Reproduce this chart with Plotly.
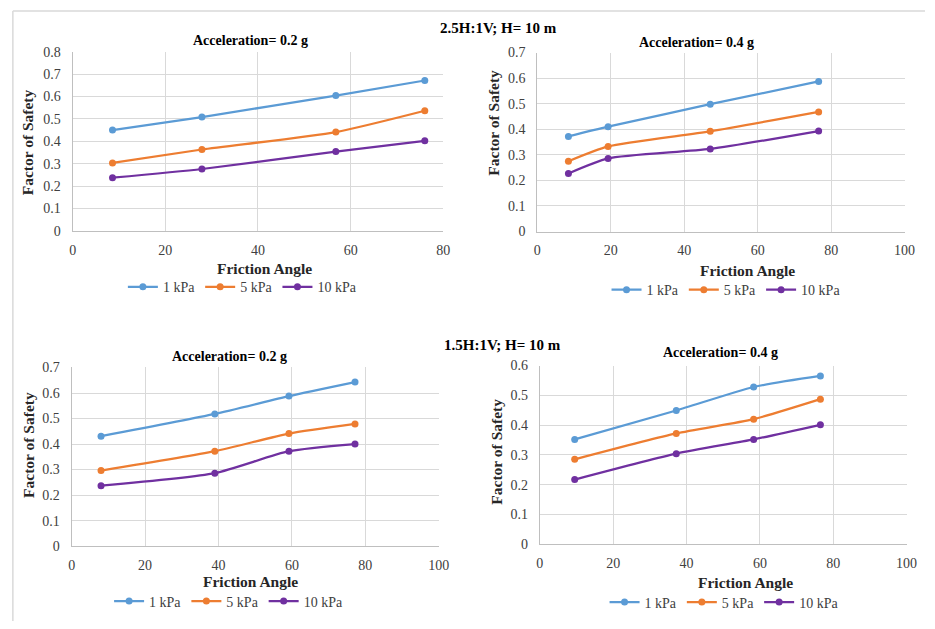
import plotly.graph_objects as go

W, H = 935, 629

series_names = ["1 kPa", "5 kPa", "10 kPa"]
colors = ["#5B9BD5", "#ED7D31", "#7030A0"]

# Panel 1: 2.5H:1V, 0.2 g
p1_x = [8.6, 27.9, 56.8, 76.0]
p1_1kpa = [0.450, 0.508, 0.604, 0.671]
p1_5kpa = [0.303, 0.363, 0.441, 0.536]
p1_10kpa = [0.237, 0.276, 0.354, 0.402]

# Panel 2: 2.5H:1V, 0.4 g
p2_x = [8.5, 19.3, 47.1, 76.6]
p2_1kpa = [0.372, 0.410, 0.498, 0.587]
p2_5kpa = [0.275, 0.333, 0.392, 0.468]
p2_10kpa = [0.227, 0.286, 0.323, 0.393]

# Panel 3: 1.5H:1V, 0.2 g
p3_x = [8.0, 39.0, 59.2, 77.2]
p3_1kpa = [0.431, 0.518, 0.588, 0.643]
p3_5kpa = [0.296, 0.372, 0.441, 0.479]
p3_10kpa = [0.237, 0.286, 0.372, 0.400]

# Panel 4: 1.5H:1V, 0.4 g
p4_x = [9.5, 37.2, 58.3, 76.5]
p4_1kpa = [0.352, 0.449, 0.528, 0.565]
p4_5kpa = [0.285, 0.372, 0.420, 0.487]
p4_10kpa = [0.217, 0.304, 0.352, 0.401]

panel_titles = ["Acceleration= 0.2 g", "Acceleration= 0.4 g",
                "Acceleration= 0.2 g", "Acceleration= 0.4 g"]
group_titles = ["2.5H:1V; H= 10 m", "1.5H:1V; H= 10 m"]
x_title = "Friction Angle"
y_title = "Factor of Safety"

x_ranges = [[0, 80], [0, 100], [0, 100], [0, 100]]
y_ranges = [[0, 0.8], [0, 0.7], [0, 0.7], [0, 0.6]]

panels = [
    (p1_x, [p1_1kpa, p1_5kpa, p1_10kpa]),
    (p2_x, [p2_1kpa, p2_5kpa, p2_10kpa]),
    (p3_x, [p3_1kpa, p3_5kpa, p3_10kpa]),
    (p4_x, [p4_1kpa, p4_5kpa, p4_10kpa]),
]

# plot area pixel boxes: (x0, x1, ytop, ybottom)
boxes = [(69.7, 446, 45.7, 229.3), (541.3, 914.3, 46.7, 230),
         (68.7, 441.3, 369.3, 552.3), (544, 916.3, 367.3, 550.3)]
title_pos = [(250, 34), (703, 36), (229, 358), (727, 354)]
xt_pos = [(264, 268), (755, 270), (250, 589), (753, 590)]
yt_pos = [(24, 139), (497, 119), (25, 449), (500, 456)]
leg_pos = [(242, 287), (733, 290), (228, 609), (731, 610)]
group_pos = [(502, 22), (506, 346)]

FONT = "Liberation Serif"
fig = go.Figure()
annotations = []
layout = dict(width=W, height=H, margin=dict(l=0, r=0, t=0, b=0),
              paper_bgcolor="white", plot_bgcolor="white",
              font=dict(family=FONT, color="#262626", size=14))

def px(x):
    return x / W

def py(y):
    return 1 - y / H

for i, (xs, ys_list) in enumerate(panels):
    n = i + 1
    xa = "x" if n == 1 else f"x{n}"
    ya = "y" if n == 1 else f"y{n}"
    lg = "legend" if n == 1 else f"legend{n}"
    for name, col, ys in zip(series_names, colors, ys_list):
        fig.add_trace(go.Scatter(
            x=xs, y=ys, name=name, mode="lines+markers",
            line=dict(color=col, width=2.25, shape="spline", smoothing=0.6),
            marker=dict(color=col, size=7),
            xaxis=xa, yaxis=ya, legend=lg))
    x0, x1, yt, yb = boxes[i]
    axis_common = dict(showgrid=True, gridcolor="#d9d9d9", gridwidth=1,
                       zeroline=False, showline=True, linecolor="#bfbfbf",
                       linewidth=1, ticks="",
                       tickfont=dict(family=FONT, size=14, color="#404040"),
                       fixedrange=True)
    layout["xaxis" if n == 1 else f"xaxis{n}"] = dict(
        domain=[px(x0), px(x1)], range=x_ranges[i], dtick=20,
        anchor=ya, ticklabelstandoff=6, **axis_common)
    layout["yaxis" if n == 1 else f"yaxis{n}"] = dict(
        domain=[py(yb), py(yt)], range=y_ranges[i], dtick=0.1,
        anchor=xa, ticklabelstandoff=8, **axis_common)
    layout[lg] = dict(orientation="h", x=px(leg_pos[i][0]), y=py(leg_pos[i][1]),
                      xanchor="center", yanchor="middle",
                      font=dict(family=FONT, size=14, color="#404040"),
                      itemwidth=30, bgcolor="rgba(0,0,0,0)",
                      tracegroupgap=0)
    annotations.append(dict(text=f"<b>{panel_titles[i]}</b>", x=px(title_pos[i][0]),
                            y=py(title_pos[i][1]), xref="paper", yref="paper",
                            showarrow=False,
                            font=dict(family=FONT, size=14, color="#000000"),
                            xanchor="center", yanchor="middle"))
    annotations.append(dict(text=f"<b>{x_title}</b>", x=px(xt_pos[i][0]),
                            y=py(xt_pos[i][1]), xref="paper", yref="paper",
                            showarrow=False,
                            font=dict(family=FONT, size=15.5, color="#262626"),
                            xanchor="center", yanchor="middle"))
    annotations.append(dict(text=f"<b>{y_title}</b>", x=px(yt_pos[i][0]),
                            y=py(yt_pos[i][1]), xref="paper", yref="paper",
                            showarrow=False, textangle=-90,
                            font=dict(family=FONT, size=15.5, color="#262626"),
                            xanchor="center", yanchor="middle"))

for t, (gx, gy) in zip(group_titles, group_pos):
    annotations.append(dict(text=f"<b>{t}</b>", x=px(gx), y=py(gy), xref="paper",
                            yref="paper", showarrow=False,
                            font=dict(family=FONT, size=15, color="#000000"),
                            xanchor="center", yanchor="middle"))

layout["annotations"] = annotations
layout["shapes"] = [
    dict(type="line", xref="paper", yref="paper", x0=px(9), x1=1, y0=py(4), y1=py(4),
         line=dict(color="#d9d9d9", width=1.5)),
    dict(type="line", xref="paper", yref="paper", x0=px(9), x1=px(9), y0=py(4), y1=0,
         line=dict(color="#d9d9d9", width=1.5)),
]
fig.update_layout(**layout)
fig.write_html(
    "out.html",
    config={"displayModeBar": False},
    post_script=("document.body.style.margin='0';"
                 "document.body.style.overflow='hidden';"),
)
